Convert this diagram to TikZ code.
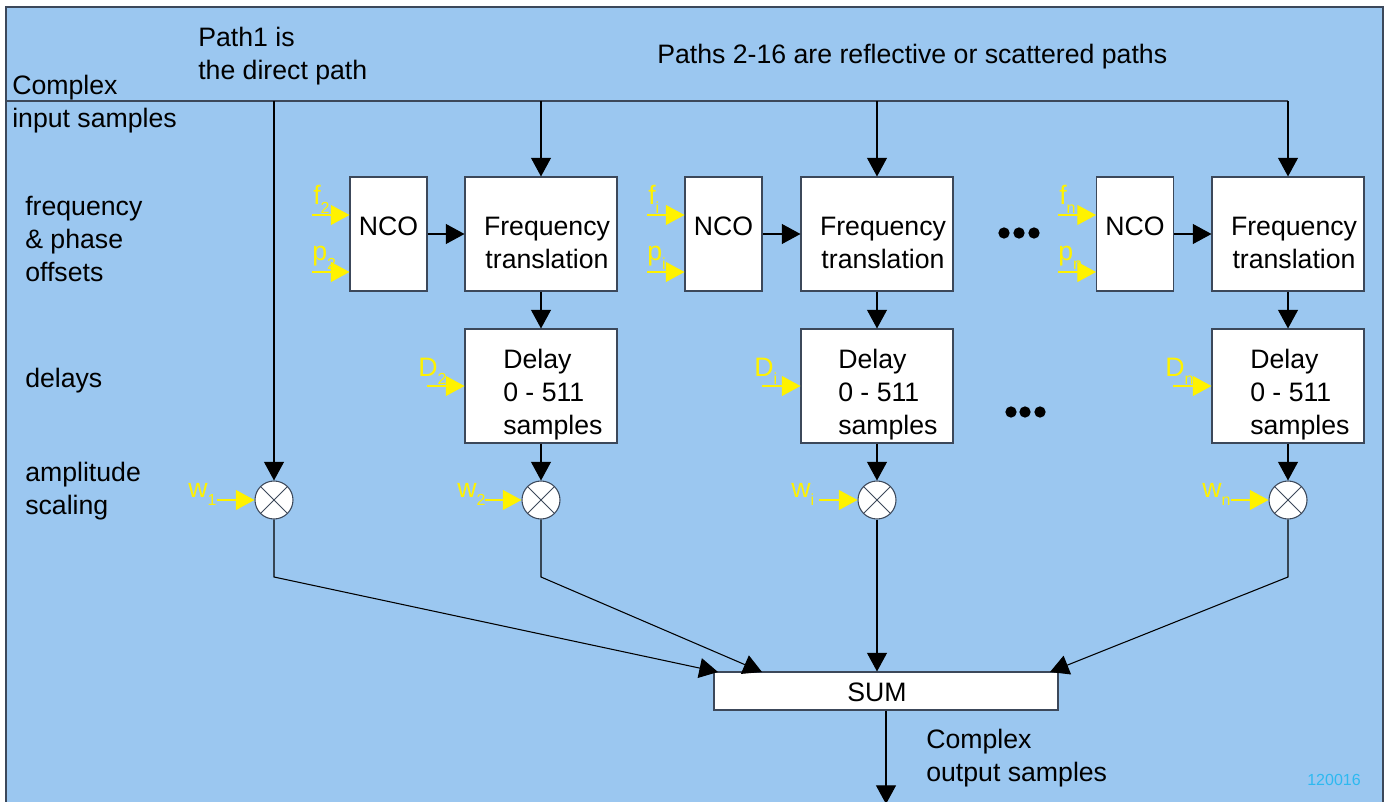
\documentclass[tikz,border=0pt]{standalone}
\usepackage{fontspec}
\setmainfont{Liberation Sans}
\usetikzlibrary{arrows.meta}
\definecolor{bgblue}{RGB}{155,199,240}
\definecolor{framegray}{RGB}{60,72,90}
\definecolor{idcyan}{RGB}{45,185,240}
\newcommand\ysub[1]{\raisebox{-6pt}{\fontsize{12}{12}\selectfont #1}}
\begin{document}
\begin{tikzpicture}[x=0.75pt,y=-0.75pt,
  txt/.style={font=\fontsize{20}{24.75}\selectfont, inner sep=0pt, align=left},
  ctxt/.style={font=\fontsize{20}{24.75}\selectfont, inner sep=0pt, align=center},
  blk/.style={draw=framegray, fill=white, line width=0.8pt, inner sep=0pt},
  ncobox/.style={blk, minimum width=57.75pt, minimum height=85.5pt},
  widebox/.style={blk, minimum width=114pt, minimum height=85.5pt},
  mult/.style={circle, draw=framegray, fill=white, line width=0.8pt, minimum size=28.5pt, inner sep=0pt,
    path picture={\draw[line width=0.6pt] (path picture bounding box.north west) -- (path picture bounding box.south east)
      (path picture bounding box.north east) -- (path picture bounding box.south west);}},
  wire/.style={draw=framegray, line width=0.8pt},
  conn/.style={draw=black, line width=0.8pt, -{Triangle[length=14pt,width=15pt]}},
  yin/.style={draw=yellow, line width=0.8pt, -{Triangle[length=14pt,width=15pt]}},
  ylab/.style={text=yellow, font=\fontsize{20}{20}\selectfont, inner sep=0pt, anchor=base west},
  dot/.style={circle, fill=black, inner sep=0pt, minimum size=8.5pt}
]
\useasboundingbox (0,0) rectangle (1391,802);
% background panel
\fill[bgblue] (6,7) rectangle (1383,815);
\draw[framegray, line width=0.8pt] (6,815) -- (6,7) -- (1383,7) -- (1383,815);

% blocks
\node[ncobox] (N1) at (388.5,234) {};
\node[widebox] (F1) at (541,234) {};
\node[widebox] (D1) at (541,386) {};
\node[ncobox] (N2) at (723.5,234) {};
\node[widebox] (F2) at (877,234) {};
\node[widebox] (D2) at (877,386) {};
\node[ncobox] (N3) at (1135,234) {};
\node[widebox] (F3) at (1288,234) {};
\node[widebox] (D3) at (1288,386) {};
\node[blk, minimum width=258pt, minimum height=28.5pt] (S) at (886,691) {};

\node[mult] (M1) at (274,500) {};
\node[mult] (M2) at (541,500) {};
\node[mult] (M3) at (877,500) {};
\node[mult] (M4) at (1288,500) {};

% block texts
\node[ctxt] (tN1) at (388.5,226) {NCO};
\node[ctxt] (tN2) at (723.5,226) {NCO};
\node[ctxt] (tN3) at (1135,226) {NCO};
\node[ctxt] (tF1) at (547,243) {Frequency\\translation};
\node[ctxt] (tF2) at (883,243) {Frequency\\translation};
\node[ctxt] (tF3) at (1294,243) {Frequency\\translation};
\node[txt, anchor=north west] (tD1) at (503,349) {Delay\\0 - 511\\samples};
\node[txt, anchor=north west] (tD2) at (838,349) {Delay\\0 - 511\\samples};
\node[txt, anchor=north west] (tD3) at (1250,349) {Delay\\0 - 511\\samples};
\node[ctxt] (tS) at (877,692) {SUM};

% side texts
\node[txt, anchor=north west] (lin) at (12,75) {Complex\\input samples};
\node[txt, anchor=north west] (lp1) at (198,27) {Path1 is\\the direct path};
\node[txt, anchor=north west] (lp2) at (657,44) {Paths 2-16 are reflective or scattered paths};
\node[txt, anchor=north west] (lfr) at (25,196) {frequency\\\& phase\\offsets};
\node[txt, anchor=north west] (ldl) at (25,368) {delays};
\node[txt, anchor=north west] (lam) at (25,462) {amplitude\\scaling};
\node[txt, anchor=north west] (lout) at (926,729) {Complex\\output samples};
\node[text=idcyan, font=\fontsize{12}{14}\selectfont, inner sep=0pt] (idn) at (1334,780) {120016};

% ellipsis dots
\node[dot] (a1) at (1004,233) {};
\node[dot] (a2) at (1019,233) {};
\node[dot] (a3) at (1034,233) {};
\node[dot] (b1) at (1011,412) {};
\node[dot] (b2) at (1025,412) {};
\node[dot] (b3) at (1040,412) {};

% input bus
\coordinate (inL) at (6,101);
\coordinate (j1) at (274,101);
\coordinate (j2) at (541,101);
\coordinate (j3) at (877,101);
\coordinate (j4) at (1288,101);
\draw[wire] (inL) -- (j4);
\draw[conn] (j1) -- (M1.north);
\draw[conn] (j2) -- (F1.north);
\draw[conn] (j3) -- (F2.north);
\draw[conn] (j4) -- (F3.north);

% chains
\draw[conn] (N1.east) -- (F1.west);
\draw[conn] (N2.east) -- (F2.west);
\draw[conn] (N3.east) -- (F3.west);
\draw[conn] (F1.south) -- (D1.north);
\draw[conn] (F2.south) -- (D2.north);
\draw[conn] (F3.south) -- (D3.north);
\draw[conn] (D1.south) -- (M2.north);
\draw[conn] (D2.south) -- (M3.north);
\draw[conn] (D3.south) -- (M4.north);

% to SUM
\coordinate (k1) at (274,577);
\coordinate (k2) at (541,577);
\coordinate (k4) at (1288,577);
\coordinate (s1) at (718,672);
\coordinate (s2) at (762,672);
\coordinate (s4) at (1050,672);
\draw[conn] (M1.south) -- (k1) -- (s1);
\draw[conn] (M2.south) -- (k2) -- (s2);
\draw[conn] (M3.south) -- (M3.south |- S.north);
\draw[conn] (M4.south) -- (k4) -- (s4);
\coordinate (out) at (886,804);
\draw[conn] (S.south) -- (out);

% yellow inputs
\coordinate (f2s) at (312,215);
\coordinate (p2s) at (312,272);
\coordinate (fis) at (647,215);
\coordinate (pis) at (647,272);
\coordinate (fns) at (1058,215);
\coordinate (pns) at (1058,272);
\draw[yin] (f2s) -- (f2s -| N1.west);
\draw[yin] (p2s) -- (p2s -| N1.west);
\draw[yin] (fis) -- (fis -| N2.west);
\draw[yin] (pis) -- (pis -| N2.west);
\draw[yin] (fns) -- (fns -| N3.west);
\draw[yin] (pns) -- (pns -| N3.west);
\node[ylab] (lf2) at (313,205) {f\ysub{2}};
\node[ylab] (lp2y) at (312,261) {p\ysub{2}};
\node[ylab] (lfi) at (648,205) {f\ysub{i}};
\node[ylab] (lpi) at (647,261) {p\ysub{i}};
\node[ylab] (lfn) at (1059,205) {f\ysub{n}};
\node[ylab] (lpn) at (1058,261) {p\ysub{n}};

\coordinate (d2s) at (427,386);
\coordinate (dis) at (762,386);
\coordinate (dns) at (1173,386);
\draw[yin] (d2s) -- (D1.west);
\draw[yin] (dis) -- (D2.west);
\draw[yin] (dns) -- (D3.west);
\node[ylab] (ld2) at (418,376) {D\ysub{2}};
\node[ylab] (ldi) at (754,376) {D\ysub{i}};
\node[ylab] (ldn) at (1165,376) {D\ysub{n}};

\coordinate (w1s) at (217,500);
\coordinate (w2s) at (485,500);
\coordinate (wis) at (819,500);
\coordinate (wns) at (1231,500);
\draw[yin] (w1s) -- (M1.west);
\draw[yin] (w2s) -- (M2.west);
\draw[yin] (wis) -- (M3.west);
\draw[yin] (wns) -- (M4.west);
\node[ylab] (lw1) at (188,497) {w\ysub{1}};
\node[ylab] (lw2) at (457,497) {w\ysub{2}};
\node[ylab] (lwi) at (791,497) {w\ysub{i}};
\node[ylab] (lwn) at (1202,497) {w\ysub{n}};
\end{tikzpicture}
\end{document}
